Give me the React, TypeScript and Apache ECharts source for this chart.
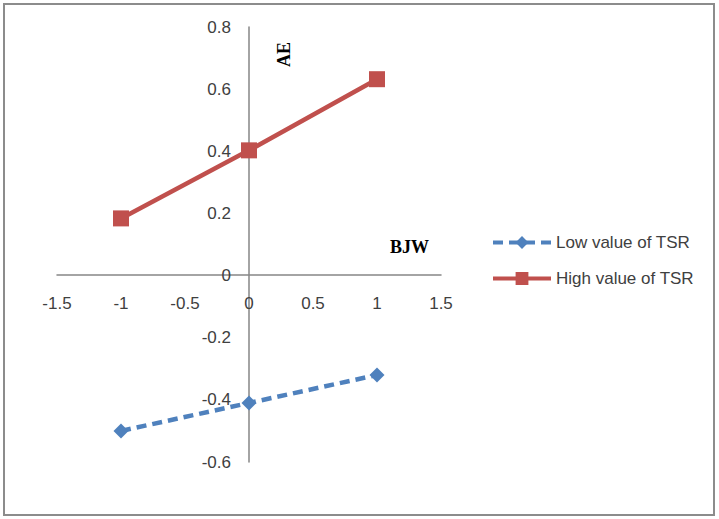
import React, { useEffect, useRef } from "react";
import * as echarts from "echarts";

const xValues = [-1, 0, 1];
const lowTSR = [-0.5, -0.41, -0.32];
const highTSR = [0.184, 0.403, 0.632];
const seriesNames = ["Low value of TSR", "High value of TSR"];

export default function App() {
  const ref = useRef<HTMLDivElement>(null);
  useEffect(() => {
    document.body.style.margin = "0";
    const chart = echarts.init(ref.current!, null, { renderer: "svg" });
    const font = "Liberation Sans";
    chart.setOption({
      animation: false,
      backgroundColor: "#ffffff",
      grid: { left: 57, right: 278, top: 27, bottom: 57 },
      xAxis: {
        type: "value",
        min: -1.5,
        max: 1.5,
        interval: 0.5,
        position: "bottom",
        offset: -187,
        axisLine: { onZero: false, lineStyle: { color: "#868686", width: 1.5 } },
        axisTick: { show: false },
        splitLine: { show: false },
        axisLabel: { color: "#404040", fontSize: 17, fontFamily: font, margin: 20 },
      },
      yAxis: {
        type: "value",
        min: -0.6,
        max: 0.8,
        interval: 0.2,
        position: "left",
        offset: -192,
        axisLine: { show: true, onZero: false, lineStyle: { color: "#868686", width: 1.5 } },
        axisTick: { show: false },
        splitLine: { show: false },
        axisLabel: {
          color: "#404040",
          fontSize: 17,
          fontFamily: font,
          margin: 18,
          formatter: (v: number) => String(Math.round(v * 10) / 10),
        },
      },
      legend: {
        orient: "vertical",
        left: 486,
        top: 229,
        itemWidth: 58,
        itemHeight: 16,
        itemGap: 19,
        lineStyle: { width: 4 },
        textStyle: { color: "#404040", fontSize: 17, fontFamily: font },
        data: seriesNames,
      },
      series: [
        {
          name: seriesNames[0],
          type: "line",
          data: xValues.map((x, i) => [x, lowTSR[i]]),
          symbol: "diamond",
          symbolSize: 15,
          lineStyle: { color: "#4F81BD", width: 4.5, type: [10, 6] },
          itemStyle: { color: "#4F81BD" },
        },
        {
          name: seriesNames[1],
          type: "line",
          data: xValues.map((x, i) => [x, highTSR[i]]),
          symbol: "rect",
          symbolSize: 16,
          lineStyle: { color: "#C0504D", width: 4.5 },
          itemStyle: { color: "#C0504D" },
        },
      ],
      graphic: [
        {
          type: "rect",
          shape: { x: 4, y: 4, width: 710, height: 511 },
          style: { fill: "none", stroke: "#8c8c8c", lineWidth: 2 },
          silent: true,
        },
        {
          type: "text",
          x: 275,
          y: 67,
          rotation: Math.PI / 2,
          style: {
            text: "AE",
            fontFamily: "Liberation Serif",
            fontWeight: "bold",
            fontSize: 18,
            fill: "#000000",
          },
        },
        {
          type: "text",
          x: 390,
          y: 238,
          style: {
            text: "BJW",
            fontFamily: "Liberation Serif",
            fontWeight: "bold",
            fontSize: 18,
            fill: "#000000",
          },
        },
      ],
    });
    return () => chart.dispose();
  }, []);
  return <div ref={ref} style={{ width: 719, height: 519 }} />;
}
